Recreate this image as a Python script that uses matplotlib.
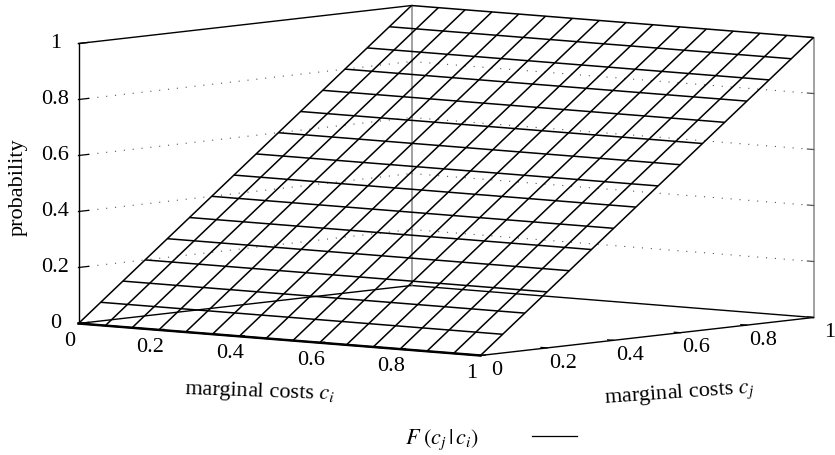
import numpy as np
import matplotlib
matplotlib.use("Agg")
import matplotlib.pyplot as plt
from matplotlib.lines import Line2D
from mpl_toolkits.mplot3d import proj3d

# ---------------- data ----------------
ci_grid = [0.0, 0.0667, 0.1333, 0.2, 0.2667, 0.3333, 0.4, 0.4667,
           0.5333, 0.6, 0.6667, 0.7333, 0.8, 0.8667, 0.9333, 1.0]
cj_grid = [0.0, 0.0667, 0.1333, 0.2, 0.2667, 0.3333, 0.4, 0.4667,
           0.5333, 0.6, 0.6667, 0.7333, 0.8, 0.8667, 0.9333, 1.0]
# probability F(c_j|c_i) for each c_j row (same value for every c_i)
F_by_cj = [0.0, 0.0667, 0.1333, 0.2, 0.2667, 0.3333, 0.4, 0.4667,
           0.5333, 0.6, 0.6667, 0.7333, 0.8, 0.8667, 0.9333, 1.0]

ci_ticks = [0, 0.2, 0.4, 0.6, 0.8, 1]
ci_tick_labels = ["0", "0.2", "0.4", "0.6", "0.8", "1"]
cj_ticks = [0, 0.2, 0.4, 0.6, 0.8, 1]
cj_tick_labels = ["0", "0.2", "0.4", "0.6", "0.8", "1"]
z_ticks = [0, 0.2, 0.4, 0.6, 0.8, 1]
z_tick_labels = ["0", "0.2", "0.4", "0.6", "0.8", "1"]
z_grid_levels = [0.2, 0.4, 0.6, 0.8]

# ---------------- style ----------------
plt.rcParams['font.family'] = ['Liberation Serif', 'DejaVu Serif']
plt.rcParams['mathtext.fontset'] = 'stix'
FS = 16

W, H = 835, 455
fig = plt.figure(figsize=(W / 100, H / 100), dpi=100)
ax = fig.add_axes([0, 0, 1, 1], projection='3d')
ax.set_proj_type('ortho')
ax.view_init(elev=5.47, azim=-50.13)
ax.set_box_aspect((1, 0.992, 0.537))
ax.set_xlim(0, 1)
ax.set_ylim(0, 1)
ax.set_zlim(0, 1)
ax.set_xticks([])
ax.set_yticks([])
ax.set_zticks([])
ax.set_axis_off()

x0, x1 = ax.get_xlim()
y0, y1 = ax.get_ylim()
z0, z1 = ax.get_zlim()

# surface mesh
X, Y = np.meshgrid(np.array(ci_grid), np.array(cj_grid))
Z = np.tile(np.array(F_by_cj)[:, None], (1, len(ci_grid)))
ax.plot_wireframe(X, Y, Z, rstride=1, cstride=1, color='black', linewidth=1.1)

# box / border
k = dict(color='black', linewidth=1.0)
ax.plot([x0, x1], [y0, y0], [z0, z0], color='black', linewidth=1.8)   # front bottom
ax.plot([x1, x1], [y0, y1], [z0, z0], **k)                             # right bottom
ax.plot([x0, x0], [y0, y1], [z0, z0], **k)                             # left bottom
ax.plot([x0, x1], [y1, y1], [z0, z0], **k)                             # back bottom
ax.plot([x0, x0], [y0, y0], [z0, z1], **k)                             # front-left vertical
ax.plot([x0, x0], [y0, y1], [z1, z1], **k)                             # top left
ax.plot([x0, x0], [y1, y1], [z0, z1], color='#888888', linewidth=1.1)  # back vertical
ax.plot([x1, x1], [y1, y1], [z0, z1], color='#888888', linewidth=1.1)  # right vertical

# dotted grid on back walls
for zl in z_grid_levels:
    ax.plot([x0, x0], [y0 + 0.03, y1], [zl, zl], color='#555555',
            linewidth=0.8, linestyle=(0, (1, 7)))
    ax.plot([x0, x1 - 0.015], [y1, y1], [zl, zl], color='#555555',
            linewidth=0.8, linestyle=(0, (1, 7)))

# tick marks
for zt in z_ticks:
    ax.plot([x0, x0], [y0, y0 + 0.03], [zt, zt], color='black', linewidth=0.9)
    ax.plot([x1 - 0.015, x1], [y1, y1], [zt, zt], color='#555555', linewidth=0.9)
for t in ci_ticks:
    ax.plot([t, t], [y0, y0 + 0.015], [z0, z0], color='black', linewidth=0.9)
for t in cj_ticks:
    ax.plot([x1 - 0.015, x1], [t, t], [z0, z0], color='black', linewidth=0.9)


# ---------------- fit the projected box onto the reference layout ----------------
def project(pts):
    M = ax.get_proj()
    p = np.array(pts, dtype=float)
    px, py, _ = proj3d.proj_transform(p[:, 0], p[:, 1], p[:, 2], M)
    return ax.transData.transform(np.column_stack([px, py]))


targets = np.array([[78, H - 323], [813, H - 317], [413, H - 7], [480, H - 355]], dtype=float)
corners = [(x0, y0, z0), (x1, y1, z0), (x0, y1, z1), (x1, y0, z0)]
for _ in range(3):
    fig.canvas.draw()
    cur = project(corners)
    s = (targets[1, 0] - targets[0, 0]) / (cur[1, 0] - cur[0, 0])
    pos = ax.get_position()
    px0, py0, pw, ph = pos.x0 * W, pos.y0 * H, pos.width * W, pos.height * H
    cx, cy = px0 + pw / 2, py0 + ph / 2
    ncx = np.mean(targets[:, 0] - s * (cur[:, 0] - cx))
    ncy = np.mean(targets[:, 1] - s * (cur[:, 1] - cy))
    nw, nh = pw * s, ph * s
    ax.set_position([(ncx - nw / 2) / W, (ncy - nh / 2) / H, nw / W, nh / H])
fig.canvas.draw()

# ---------------- tick labels (projected anchor points, drawn as 2-D text) ----------------
def label_at(pt3, text):
    (dx, dy), = project([pt3])
    fig.text(dx / W, dy / H, text, ha='center', va='center', fontsize=FS)


for zt, lab in zip(z_ticks, z_tick_labels):
    label_at((x0, y0 - 0.069, zt + 0.009), lab)
for t, lab in zip(ci_ticks, ci_tick_labels):
    label_at((t, y0 - 0.027, z0 - 0.059), lab)
for t, lab in zip(cj_ticks, cj_tick_labels):
    label_at((x1 + 0.04, t, z0 - 0.05), lab)

# ---------------- labels & legend ----------------
fig.text(18 / W, 1 - 187 / H, "probability", rotation=90, ha='center', va='center', fontsize=FS)
fig.text(260 / W, 1 - 392 / H, r"marginal costs $c_i$", rotation=-2,
         ha='center', va='center', fontsize=FS, rotation_mode='anchor')
fig.text(679 / W, 1 - 394 / H, r"marginal costs $c_j$", rotation=4,
         ha='center', va='center', fontsize=FS, rotation_mode='anchor')

handle = Line2D([], [], color='black', linewidth=0.9)
fig.legend(handles=[handle], labels=[r"$F\;(c_j\,|\,c_i)$"], markerfirst=False,
           frameon=False, loc='center', bbox_to_anchor=(491 / W, 1 - 440 / H),
           fontsize=FS, handlelength=2.0, handletextpad=2.4, borderpad=0, borderaxespad=0)

fig.savefig("out.png", dpi=100)
